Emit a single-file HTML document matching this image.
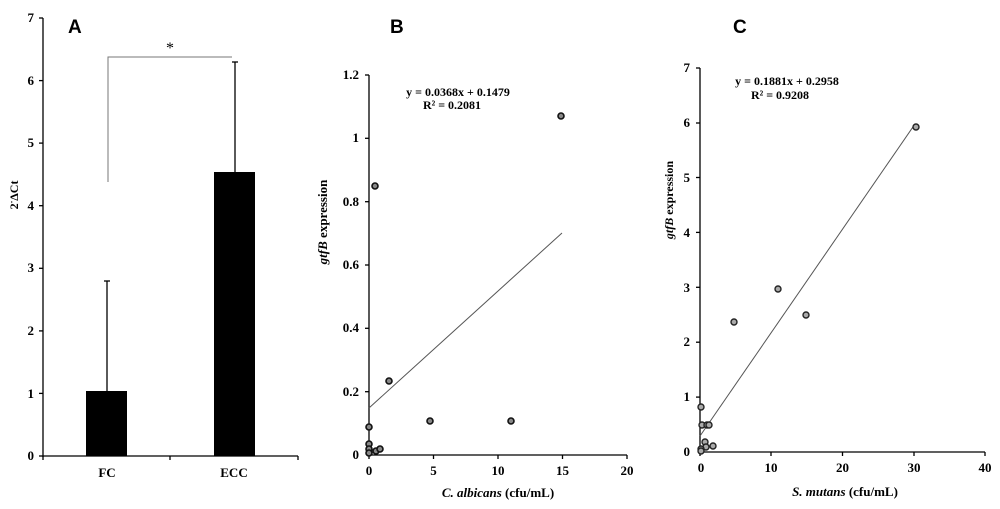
<!DOCTYPE html>
<html><head><meta charset="utf-8"><style>body{margin:0;background:#fff}svg{display:block}</style></head><body>
<svg width="1000" height="509" viewBox="0 0 1000 509" xmlns="http://www.w3.org/2000/svg" font-family="Liberation Serif, serif" font-weight="bold">
<!-- Panel A -->
<text x="68" y="33" font-family="Liberation Sans, sans-serif" font-size="19">A</text>
<g stroke="#000" stroke-width="1.3">
<line x1="43" y1="18" x2="43" y2="457"/>
<line x1="43" y1="456" x2="298" y2="456"/>
<line x1="39" y1="18" x2="43" y2="18"/><line x1="39" y1="80.6" x2="43" y2="80.6"/><line x1="39" y1="143.1" x2="43" y2="143.1"/><line x1="39" y1="205.7" x2="43" y2="205.7"/><line x1="39" y1="268.3" x2="43" y2="268.3"/><line x1="39" y1="330.9" x2="43" y2="330.9"/><line x1="39" y1="393.4" x2="43" y2="393.4"/><line x1="39" y1="456" x2="43" y2="456"/>
<line x1="43" y1="456" x2="43" y2="460"/><line x1="170" y1="456" x2="170" y2="460"/><line x1="298" y1="456" x2="298" y2="460"/>
<line x1="107" y1="391" x2="107" y2="281"/><line x1="104" y1="281" x2="110" y2="281"/>
<line x1="235" y1="172" x2="235" y2="62"/><line x1="232" y1="62" x2="238" y2="62"/>
</g>
<rect x="86" y="391" width="41" height="65"/>
<rect x="214" y="172" width="41" height="284"/>
<path d="M108 182 V57 H232" fill="none" stroke="#777" stroke-width="1"/>
<text x="170" y="53" font-size="16" text-anchor="middle" font-weight="normal">*</text>
<g font-size="13" text-anchor="end">
<text x="34" y="22">7</text><text x="34" y="85">6</text><text x="34" y="147">5</text><text x="34" y="210">4</text><text x="34" y="272">3</text><text x="34" y="335">2</text><text x="34" y="398">1</text><text x="34" y="460">0</text>
</g>
<g font-size="13" text-anchor="middle"><text x="107" y="477">FC</text><text x="234" y="477">ECC</text></g>
<text transform="translate(18,195) rotate(-90)" font-size="12" text-anchor="middle">2<tspan font-size="8" dy="-4">-</tspan><tspan dy="4">ΔCt</tspan></text>

<!-- Panel B -->
<text x="390" y="33" font-family="Liberation Sans, sans-serif" font-size="19">B</text>
<g stroke="#000" stroke-width="1.3">
<line x1="369" y1="75" x2="369" y2="456"/>
<line x1="369" y1="455" x2="627" y2="455"/>
<line x1="365" y1="75" x2="369" y2="75"/><line x1="365" y1="138.3" x2="369" y2="138.3"/><line x1="365" y1="201.7" x2="369" y2="201.7"/><line x1="365" y1="265" x2="369" y2="265"/><line x1="365" y1="328.3" x2="369" y2="328.3"/><line x1="365" y1="391.7" x2="369" y2="391.7"/>
<line x1="433.5" y1="455" x2="433.5" y2="459"/><line x1="498" y1="455" x2="498" y2="459"/><line x1="562.5" y1="455" x2="562.5" y2="459"/><line x1="627" y1="455" x2="627" y2="459"/><line x1="369" y1="455" x2="369" y2="459"/>
</g>
<line x1="369" y1="408" x2="562" y2="233" stroke="#555" stroke-width="1"/>
<g font-size="13" text-anchor="end">
<text x="359" y="79">1.2</text><text x="359" y="142">1</text><text x="359" y="206">0.8</text><text x="359" y="269">0.6</text><text x="359" y="332">0.4</text><text x="359" y="396">0.2</text><text x="359" y="459">0</text>
</g>
<g font-size="13" text-anchor="middle"><text x="369" y="475">0</text><text x="433.5" y="475">5</text><text x="498" y="475">10</text><text x="562.5" y="475">15</text><text x="627" y="475">20</text></g>
<text x="498" y="497" font-size="13" text-anchor="middle"><tspan font-style="italic">C. albicans</tspan> (cfu/mL)</text>
<text transform="translate(327,222) rotate(-90)" font-size="13" text-anchor="middle"><tspan font-style="italic">gtfB</tspan> expression</text>
<text x="458" y="96" font-size="12" text-anchor="middle">y = 0.0368x + 0.1479</text>
<text x="452" y="109" font-size="12" text-anchor="middle">R² = 0.2081</text>
<g fill="#888" stroke="#111" stroke-width="1.6">
<circle cx="375" cy="186" r="3"/><circle cx="561" cy="116" r="3"/><circle cx="389" cy="381" r="3"/><circle cx="430" cy="421" r="3"/><circle cx="511" cy="421" r="3"/><circle cx="369" cy="427" r="3"/><circle cx="369" cy="444" r="3"/><circle cx="369" cy="449" r="3"/><circle cx="369" cy="453" r="3"/><circle cx="376" cy="451" r="3"/><circle cx="380" cy="449" r="3"/>
</g>

<!-- Panel C -->
<text x="733" y="33" font-family="Liberation Sans, sans-serif" font-size="19">C</text>
<g stroke="#000" stroke-width="1.3">
<line x1="700" y1="68" x2="700" y2="453"/>
<line x1="700" y1="452" x2="985" y2="452"/>
<line x1="696" y1="68" x2="700" y2="68"/><line x1="696" y1="123" x2="700" y2="123"/><line x1="696" y1="177.5" x2="700" y2="177.5"/><line x1="696" y1="232.4" x2="700" y2="232.4"/><line x1="696" y1="287.3" x2="700" y2="287.3"/><line x1="696" y1="342.2" x2="700" y2="342.2"/><line x1="696" y1="397.1" x2="700" y2="397.1"/>
<line x1="771" y1="452" x2="771" y2="456"/><line x1="842.5" y1="452" x2="842.5" y2="456"/><line x1="914" y1="452" x2="914" y2="456"/><line x1="985" y1="452" x2="985" y2="456"/><line x1="700" y1="452" x2="700" y2="456"/>
</g>
<line x1="700" y1="436" x2="915" y2="124" stroke="#555" stroke-width="1"/>
<g font-size="13" text-anchor="end">
<text x="690" y="72">7</text><text x="690" y="127">6</text><text x="690" y="182">5</text><text x="690" y="237">4</text><text x="690" y="292">3</text><text x="690" y="346">2</text><text x="690" y="401">1</text><text x="690" y="456">0</text>
</g>
<g font-size="13" text-anchor="middle"><text x="701" y="472">0</text><text x="771" y="472">10</text><text x="842.5" y="472">20</text><text x="914" y="472">30</text><text x="985" y="472">40</text></g>
<text x="845" y="496" font-size="13" text-anchor="middle"><tspan font-style="italic">S. mutans</tspan> (cfu/mL)</text>
<text transform="translate(673,200) rotate(-90)" font-size="12" text-anchor="middle"><tspan font-style="italic">gtfB</tspan> expression</text>
<text x="787" y="85" font-size="12" text-anchor="middle">y = 0.1881x + 0.2958</text>
<text x="780" y="99" font-size="12" text-anchor="middle">R² = 0.9208</text>
<g fill="#aaa" stroke="#222" stroke-width="1.4">
<circle cx="916" cy="127" r="3"/><circle cx="778" cy="289" r="3"/><circle cx="806" cy="315" r="3"/><circle cx="734" cy="322" r="3"/><circle cx="701" cy="407" r="3"/><circle cx="702" cy="425" r="3"/><circle cx="707" cy="425" r="3"/><circle cx="709" cy="425" r="3"/><circle cx="705" cy="442" r="3"/><circle cx="713" cy="446" r="3"/><circle cx="706" cy="447" r="3"/><circle cx="701" cy="449" r="3"/><circle cx="701" cy="451" r="3"/>
</g>
</svg>
</body></html>
